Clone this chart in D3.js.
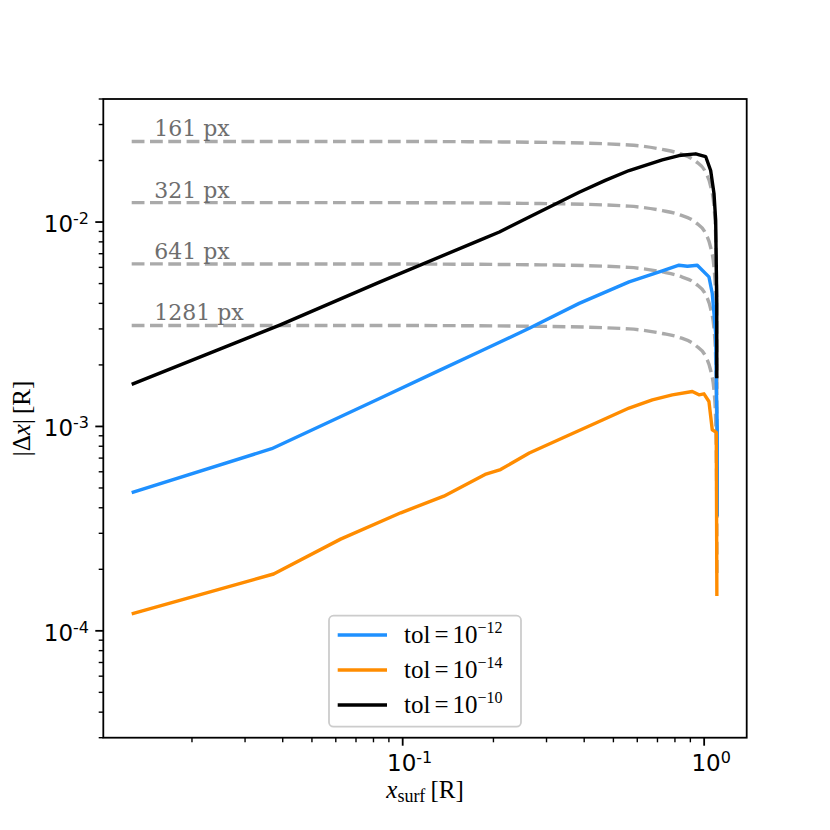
<!DOCTYPE html>
<html>
<head>
<meta charset="utf-8">
<script src="https://cdn.jsdelivr.net/npm/d3@7"></script>
<style>
  body { margin: 0; background: #fff; }
</style>
</head>
<body>
<div id="chart"></div>
<script>
// values
const xBlue = [0.01262, 0.03677, 0.0838, 0.1324, 0.1796, 0.2630, 0.3850, 0.5636, 0.7265, 0.8253, 0.88, 0.9489, 1.0373, 1.064, 1.092, 1.097, 1.105, 1.106];
const yBlue = [4.74e-4, 7.78e-4, 1.37e-3, 1.88e-3, 2.32e-3, 3.02e-3, 4.00e-3, 5.10e-3, 5.77e-3, 6.15e-3, 6.08e-3, 6.15e-3, 5.39e-3, 4.47e-3, 2.855e-3, 1.628e-3, 9.63e-4, 3.63e-4];

const xOrange = [0.01262, 0.03731, 0.06223, 0.09858, 0.1369, 0.1876, 0.2112, 0.2630, 0.3389, 0.4373, 0.5636, 0.6733, 0.7842, 0.9133, 0.9612, 0.9986, 1.0373, 1.064, 1.097, 1.102];
const yOrange = [1.212e-4, 1.897e-4, 2.81e-4, 3.78e-4, 4.56e-4, 5.82e-4, 6.15e-4, 7.42e-4, 8.78e-4, 1.039e-3, 1.230e-3, 1.350e-3, 1.428e-3, 1.482e-3, 1.428e-3, 1.444e-3, 1.324e-3, 9.63e-4, 9.35e-4, 1.48e-4];

const xBlack = [0.01262, 0.03909, 0.0838, 0.1796, 0.2093, 0.2630, 0.3850, 0.4700, 0.5636, 0.7265, 0.8253, 0.9374, 1.0116, 1.051, 1.078, 1.092, 1.101, 1.1012];
const yBlack = [1.607e-3, 3.13e-3, 5.08e-3, 8.14e-3, 8.94e-3, 1.058e-2, 1.400e-2, 1.60e-2, 1.787e-2, 2.016e-2, 2.116e-2, 2.157e-2, 2.092e-2, 1.787e-2, 1.380e-2, 1.019e-2, 4.15e-3, 1.72e-3];

// pixel-size reference curves (dashed)
const xPx = [0.01262, 0.1, 0.3, 0.5636, 0.7265, 0.8253, 0.9374, 1.0116, 1.051, 1.078, 1.092, 1.100, 1.103];
const yPx161 = [0.0248, 0.02478, 0.02453, 0.02383, 0.02267, 0.02167, 0.01982, 0.01751, 0.01496, 0.01195, 0.00853, 0.00411, 0.00150];
const yPx321 = [0.01245, 0.01244, 0.01231, 0.01196, 0.01138, 0.01088, 0.00995, 0.00879, 0.00751, 0.00600, 0.00428, 0.00206, 0.00075];
const yPx641 = [0.00624, 0.00623, 0.00617, 0.00600, 0.00570, 0.00545, 0.00499, 0.00441, 0.00376, 0.00301, 0.00215, 0.00103, 0.00038];
const yPx1281 = [0.00312, 0.003117, 0.003086, 0.00300, 0.00285, 0.00273, 0.00249, 0.00220, 0.00188, 0.00150, 0.00107, 0.00052, 0.00019];
const pxLabels = ["161 px", "321 px", "641 px", "1281 px"];
const pxLabelX = 0.015;

const legendExps = ["\u221212", "\u221214", "\u221210"];
const xMajorExps = ["-1", "0"];
const yMajorExps = ["-4", "-3", "-2"];

const W = 830, H = 830;
const margin = {left: 103.3, right: 83.3, top: 99, bottom: 92.3};

const svg = d3.select('#chart').append('svg').attr('width', W).attr('height', H)
    .style('font-family', 'DejaVu Sans');
svg.append('rect').attr('width', W).attr('height', H).attr('fill', '#fff');

const x = d3.scaleLog().domain([0.01016, 1.384]).range([margin.left, W - margin.right]);
const y = d3.scaleLog().domain([3e-5, 4e-2]).range([H - margin.bottom, margin.top]);

svg.append('clipPath').attr('id', 'clip').append('rect')
    .attr('x', margin.left).attr('y', margin.top)
    .attr('width', W - margin.left - margin.right).attr('height', H - margin.top - margin.bottom);

const plot = svg.append('g').attr('clip-path', 'url(#clip)');

const zip = (xs, ys) => xs.map((v, i) => [v, ys[i]]);

// dashed curves
const dashLine = d3.line().x(d => x(d[0])).y(d => y(d[1])).curve(d3.curveMonotoneX);
const pxSeries = [yPx161, yPx321, yPx641, yPx1281];
pxSeries.forEach((ys, i) => {
    plot.append('path').attr('d', dashLine(zip(xPx, ys)))
        .attr('fill', 'none').attr('stroke', '#aaaaaa').attr('stroke-width', 3.4)
        .attr('stroke-dasharray', '12.8,5.5');
    svg.append('text').attr('x', x(pxLabelX)).attr('y', y(ys[0]) - 5)
        .attr('font-family', 'DejaVu Serif').attr('font-size', 22).attr('fill', '#6e6e6e')
        .text(pxLabels[i]);
});

const line = d3.line().x(d => x(d[0])).y(d => y(d[1]));
const series = [
    {xs: xBlue, ys: yBlue, color: '#1e90ff'},
    {xs: xOrange, ys: yOrange, color: '#ff8c00'},
    {xs: xBlack, ys: yBlack, color: '#000000'}
];
series.forEach(s => {
    plot.append('path').attr('d', line(zip(s.xs, s.ys)))
        .attr('fill', 'none').attr('stroke', s.color).attr('stroke-width', 3.4)
        .attr('stroke-linejoin', 'round');
});

// frame
svg.append('rect').attr('x', margin.left).attr('y', margin.top)
    .attr('width', W - margin.left - margin.right).attr('height', H - margin.top - margin.bottom)
    .attr('fill', 'none').attr('stroke', '#000').attr('stroke-width', 1.8);

// ticks
function minorTicks(domain) {
    const out = [];
    for (let e = -6; e <= 1; e++) {
        for (let m = 2; m <= 9; m++) {
            const v = m * Math.pow(10, e);
            if (v >= domain[0] && v <= domain[1]) out.push(v);
        }
    }
    return out;
}
const yb = H - margin.bottom;
minorTicks(x.domain()).forEach(v => {
    svg.append('line').attr('x1', x(v)).attr('x2', x(v)).attr('y1', yb).attr('y2', yb + 4.6)
        .attr('stroke', '#000').attr('stroke-width', 1.4);
});
minorTicks(y.domain()).forEach(v => {
    svg.append('line').attr('y1', y(v)).attr('y2', y(v)).attr('x1', margin.left).attr('x2', margin.left - 4.6)
        .attr('stroke', '#000').attr('stroke-width', 1.4);
});
xMajorExps.forEach(e => {
    const px = x(Math.pow(10, +e));
    svg.append('line').attr('x1', px).attr('x2', px).attr('y1', yb).attr('y2', yb + 8)
        .attr('stroke', '#000').attr('stroke-width', 1.8);
    const t = svg.append('text').attr('x', px + 7).attr('y', yb + 33)
        .attr('text-anchor', 'middle').attr('font-size', 23);
    t.append('tspan').text('10');
    t.append('tspan').attr('dy', -8).attr('font-size', 16).text(e);
});
yMajorExps.forEach(e => {
    const py = y(Math.pow(10, +e));
    svg.append('line').attr('y1', py).attr('y2', py).attr('x1', margin.left).attr('x2', margin.left - 8)
        .attr('stroke', '#000').attr('stroke-width', 1.8);
    const t = svg.append('text').attr('x', 89).attr('y', py + 10)
        .attr('text-anchor', 'end').attr('font-size', 23);
    t.append('tspan').text('10');
    t.append('tspan').attr('dy', -8).attr('font-size', 16).text(e);
});

// axis labels
const xl = svg.append('text').attr('x', 425).attr('y', 798).attr('text-anchor', 'middle')
    .attr('font-family', 'Liberation Serif').attr('font-size', 25);
xl.append('tspan').attr('font-style', 'italic').text('x');
xl.append('tspan').attr('font-size', 18).attr('dy', 4).text('surf');
xl.append('tspan').attr('dy', -4).text('\u2009[R]');

const yl = svg.append('text').attr('transform', 'translate(30,418.5) rotate(-90)')
    .attr('text-anchor', 'middle').attr('font-family', 'Liberation Serif').attr('font-size', 25);
yl.append('tspan').text('|\u0394');
yl.append('tspan').attr('font-style', 'italic').text('x');
yl.append('tspan').text('|\u2009[R]');

// legend
const lg = svg.append('g');
lg.append('rect').attr('x', 329).attr('y', 615.7).attr('width', 192).attr('height', 111)
    .attr('rx', 4.5).attr('fill', '#fff').attr('fill-opacity', 0.8)
    .attr('stroke', '#cccccc').attr('stroke-width', 1.8);
series.forEach((s, i) => {
    const by = 643.3 + i * 35;
    lg.append('line').attr('x1', 337.7).attr('x2', 387).attr('y1', by - 8.3).attr('y2', by - 8.3)
        .attr('stroke', s.color).attr('stroke-width', 3.4);
    const t = lg.append('text').attr('x', 404).attr('y', by)
        .attr('font-family', 'Liberation Serif').attr('font-size', 25);
    t.append('tspan').text('tol');
    t.append('tspan').attr('dx', 4).text('=');
    t.append('tspan').attr('dx', 4).text('10');
    t.append('tspan').attr('dy', -10).attr('font-size', 16).text(legendExps[i]);
});
</script>
</body>
</html>
